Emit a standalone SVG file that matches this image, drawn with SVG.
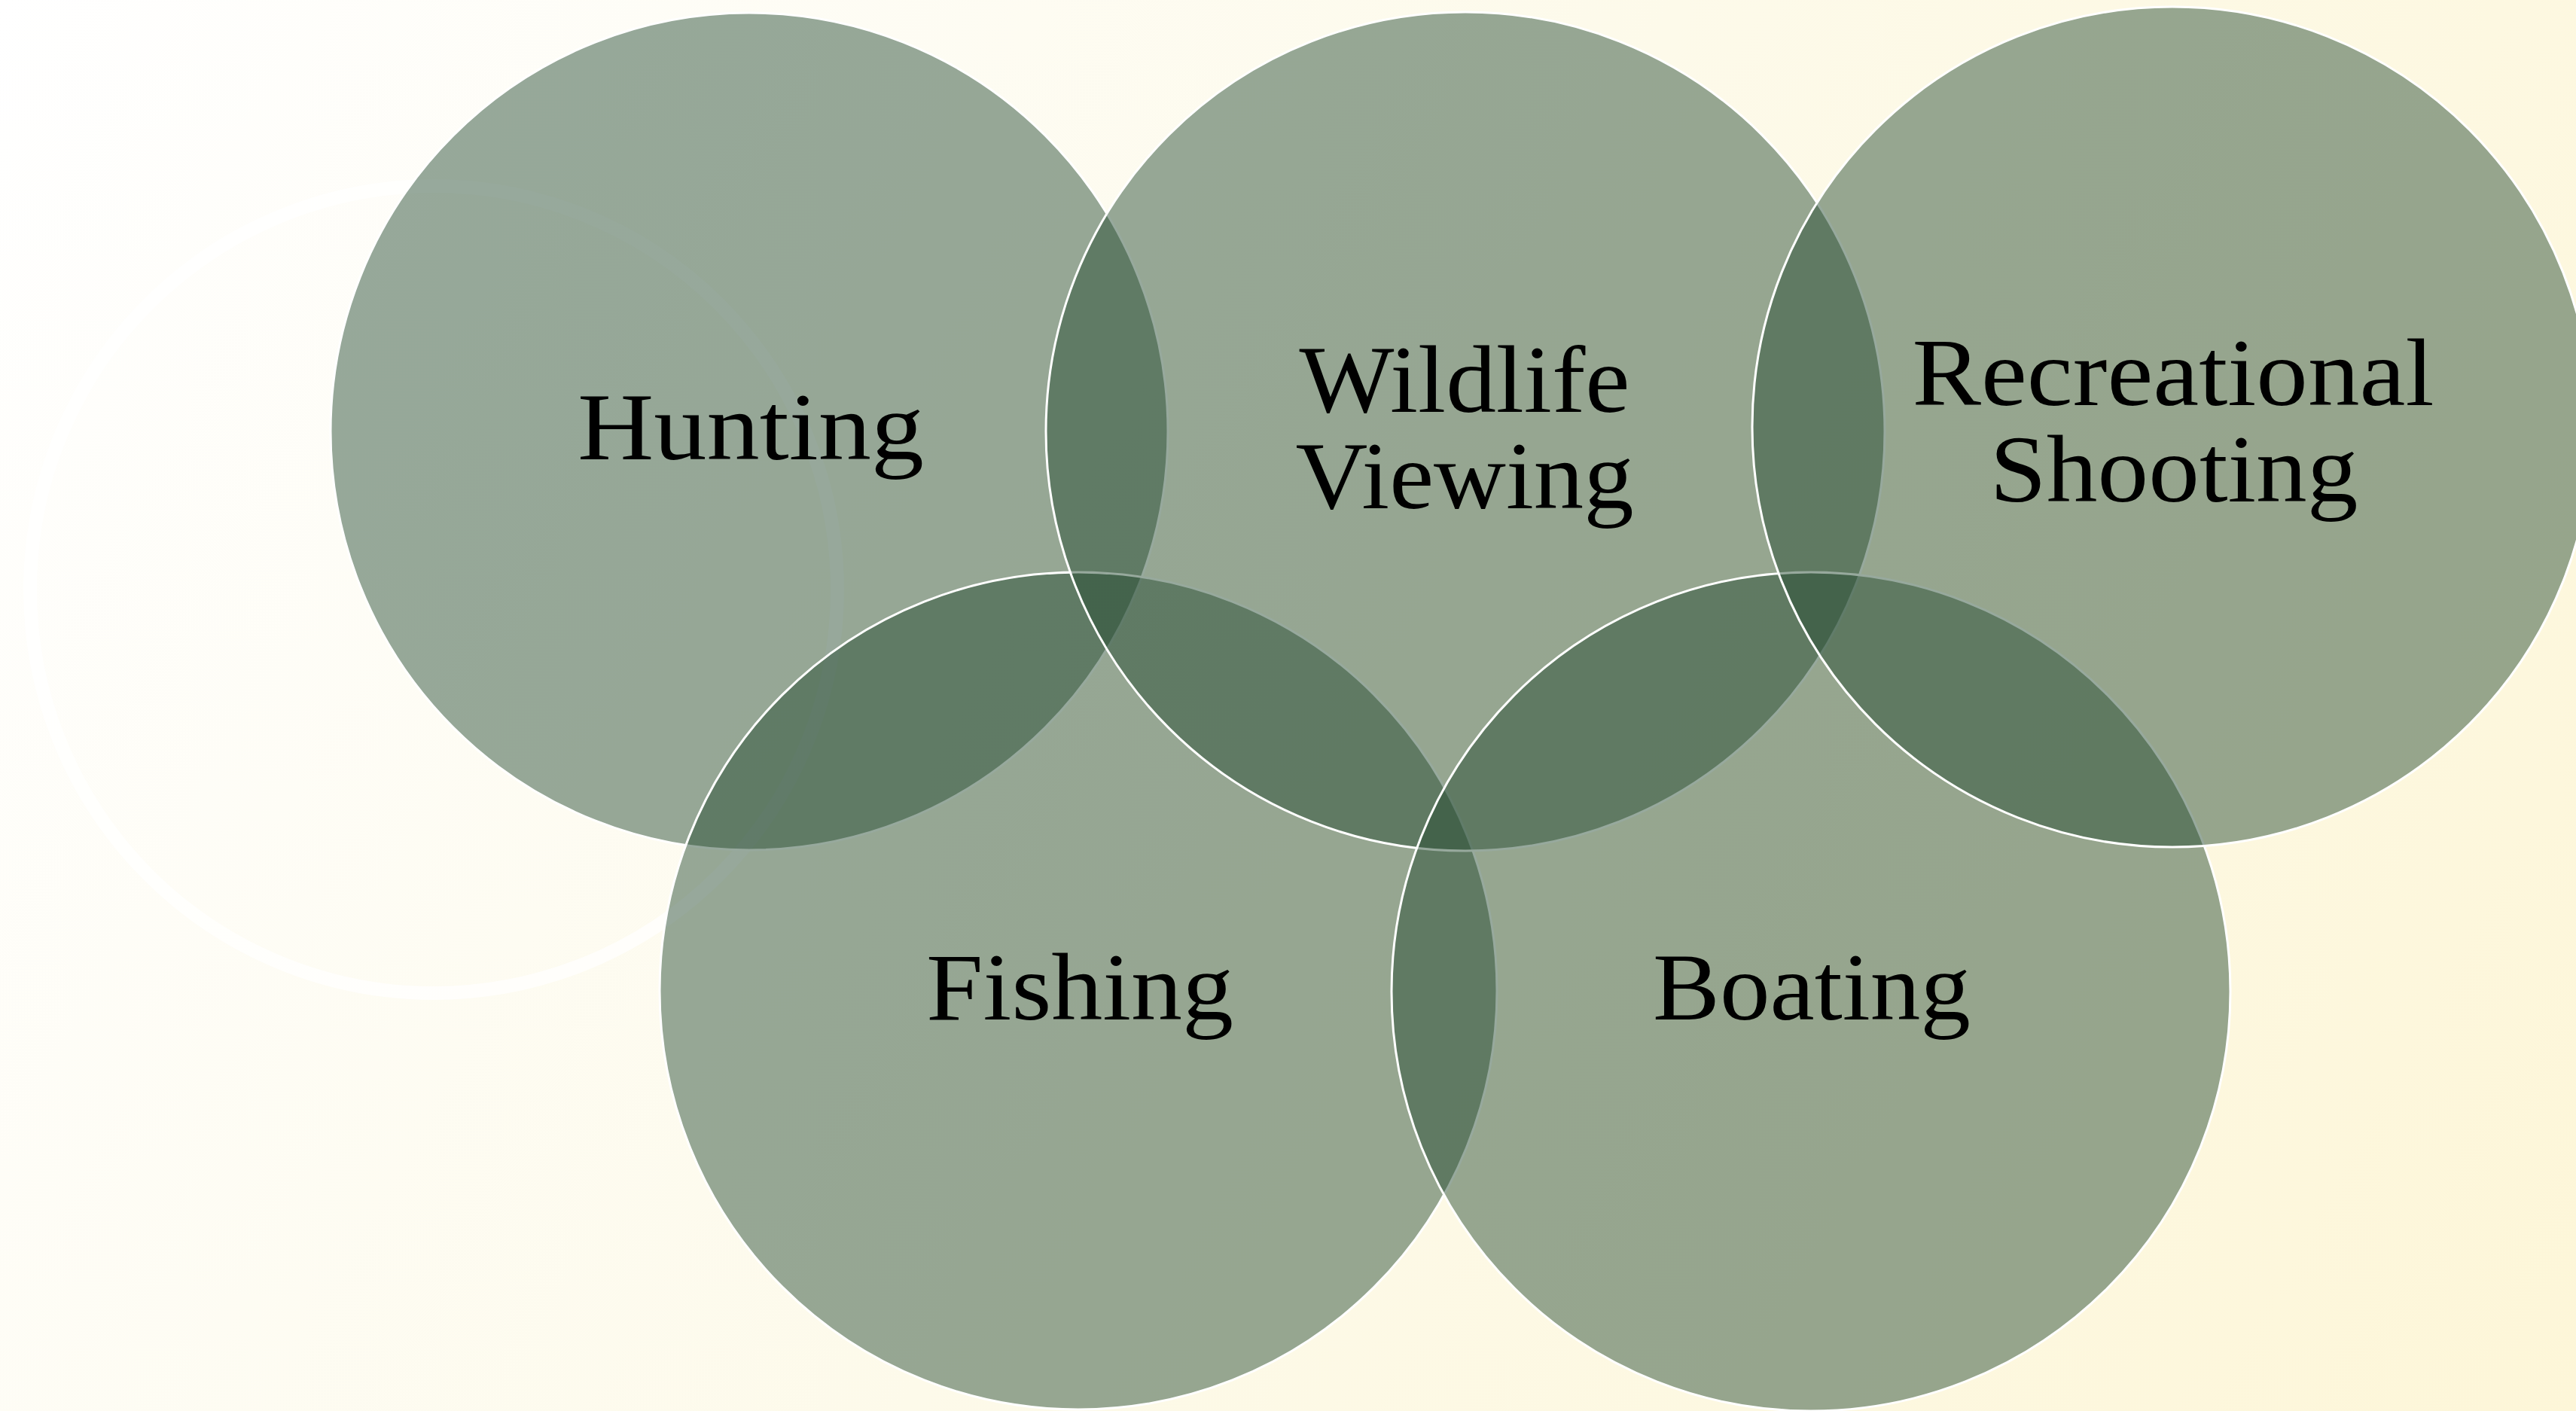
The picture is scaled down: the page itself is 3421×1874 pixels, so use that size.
<svg xmlns="http://www.w3.org/2000/svg" width="3421" height="1874" viewBox="0 0 3421 1874">
  <defs>
    <linearGradient id="bg" x1="0" y1="0" x2="3421" y2="1874" gradientUnits="userSpaceOnUse">
      <stop offset="0" stop-color="#ffffff"/>
      <stop offset="0.5" stop-color="#fdfaea"/>
      <stop offset="1" stop-color="#fdf6d8"/>
    </linearGradient>
  </defs>
  <style>
    .ring { fill: #264c32; fill-opacity: 0.48; stroke: #ffffff; stroke-width: 3; }
    .lbl { font-family: "Liberation Serif", "Times New Roman", serif; font-size: 128px; fill: #000000; text-anchor: middle; }
    .deco { fill: none; stroke: #ffffff; stroke-width: 18; stroke-opacity: 0.7; }
  </style>
  <rect x="0" y="0" width="3421" height="1874" fill="url(#bg)"/>
  <circle class="deco" cx="576" cy="783" r="536"/>

  <g id="node-hunting">
    <circle class="ring" cx="995" cy="573" r="556"/>
    <text class="lbl" x="997" y="610" textLength="460" lengthAdjust="spacingAndGlyphs">Hunting</text>
  </g>
  <g id="node-fishing">
    <circle class="ring" cx="1432" cy="1316" r="556"/>
    <text class="lbl" x="1434" y="1354" textLength="408" lengthAdjust="spacingAndGlyphs">Fishing</text>
  </g>
  <g id="node-wildlife">
    <circle class="ring" cx="1946" cy="573" r="557"/>
    <text class="lbl" x="1945" y="547" textLength="439" lengthAdjust="spacingAndGlyphs">Wildlife</text>
    <text class="lbl" x="1945" y="675" textLength="449" lengthAdjust="spacingAndGlyphs">Viewing</text>
  </g>
  <g id="node-boating">
    <circle class="ring" cx="2405" cy="1317" r="557"/>
    <text class="lbl" x="2406" y="1354" textLength="422" lengthAdjust="spacingAndGlyphs">Boating</text>
  </g>
  <g id="node-recreational">
    <circle class="ring" cx="2885" cy="567" r="558"/>
    <text class="lbl" x="2886" y="538" textLength="693" lengthAdjust="spacingAndGlyphs">Recreational</text>
    <text class="lbl" x="2887" y="666" textLength="489" lengthAdjust="spacingAndGlyphs">Shooting</text>
  </g>
  <g id="connectors"></g>
</svg>
